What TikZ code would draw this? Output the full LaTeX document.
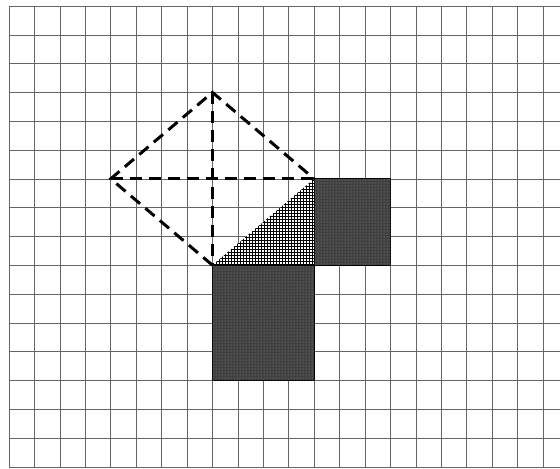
\documentclass[tikz,border=0pt]{standalone}
\usetikzlibrary{patterns}
\begin{document}
\begin{tikzpicture}[x=25.43pt,y=-28.8pt]
\tikzset{gridline/.style={black!60,line width=0.55pt},
  dashline/.style={line width=3pt,dash pattern=on 12pt off 7pt},
  darksq/.style={fill=black!75,draw=black,line width=1pt},
  dotsq/.style={pattern=dots,pattern color=black!40},
  hatchtri/.style={fill=white,postaction={pattern=grid,pattern color=black}}}
\useasboundingbox (-0.354,-0.208) rectangle (21.667,16.042);
\foreach \i in {0,...,21} \draw[gridline] (\i,0) -- (\i,16.042);
\foreach \j in {0,...,16} \draw[gridline] (0,\j) -- (21.667,\j);
\coordinate (top) at (8,3);
\coordinate (left) at (4,6);
\coordinate (right) at (12,6);
\coordinate (bottom) at (8,9);
\coordinate (corner) at (12,9);
\fill[hatchtri] (bottom) -- (right) -- (corner) -- cycle;
\draw[darksq] (bottom) rectangle (12,13);
\fill[dotsq] (bottom) rectangle (12,13);
\draw[darksq] (right) rectangle (15,9);
\fill[dotsq] (right) rectangle (15,9);
\draw[dashline] (bottom) -- (left) -- (top) -- (right);
\draw[dashline] (left) -- (right);
\draw[dashline] (top) -- (bottom);
\end{tikzpicture}
\end{document}
